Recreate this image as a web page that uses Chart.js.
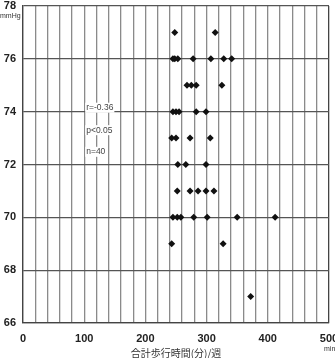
<!DOCTYPE html>
<html>
<head>
<meta charset="utf-8">
<script src="https://cdn.jsdelivr.net/npm/chart.js@4.4.1/dist/chart.umd.min.js"></script>
<style>
  html, body { margin: 0; padding: 0; background: #fff; overflow: hidden; }
</style>
</head>
<body>
<canvas id="bpChart" width="335" height="358"></canvas>
<script>
// weekly walking time (min) vs blood pressure (mmHg)
const walkMinutes = [
  248, 314,
  245, 248, 253, 278, 307, 328, 341,
  268, 275, 283, 325,
  245, 250, 255, 283, 299,
  243, 250, 273, 306,
  253, 266, 299,
  252, 273, 286, 299, 312,
  245, 252, 258, 279, 301, 350, 412,
  243, 327,
  372
];
const pressure = [
  77, 77,
  76, 76, 76, 76, 76, 76, 76,
  75, 75, 75, 75,
  74, 74, 74, 74, 74,
  73, 73, 73, 73,
  72, 72, 72,
  71, 71, 71, 71, 71,
  70, 70, 70, 70, 70, 70, 70,
  69, 69,
  67
];
const xLabels = [0, 100, 200, 300, 400, 500];
const statLines = ['r=-0.36', 'p<0.05', 'n=40'];
const xTitle = '合計歩行時間(分)/週';

const points = walkMinutes.map((m, i) => ({ x: m, y: pressure[i] }));

const numFont = '"Liberation Sans", Arial, sans-serif';

// small unit labels + stats box
const extraText = {
  id: 'extraText',
  beforeDatasetsDraw(chart) {
    const ctx = chart.ctx;
    const xs = chart.scales.x;
    const ys = chart.scales.y;
    ctx.save();
    ctx.font = '8.5px ' + numFont;
    ctx.textBaseline = 'middle';
    const left = xs.getPixelForValue(100) + 2;
    const rows = [ys.getPixelForValue(74.15), ys.getPixelForValue(73.3), ys.getPixelForValue(72.48)];
    statLines.forEach((t, i) => {
      const w = ctx.measureText(t).width;
      ctx.fillStyle = '#fff';
      ctx.fillRect(left - 1, rows[i] - 5, w + 2, 10);
      ctx.fillStyle = '#444';
      ctx.fillText(t, left, rows[i]);
    });
    ctx.restore();
  },
  afterDraw(chart) {
    const ctx = chart.ctx;
    ctx.save();
    ctx.fillStyle = '#333';
    ctx.font = '7px ' + numFont;
    ctx.textBaseline = 'middle';
    ctx.fillText('mmHg', 0, 16);
    ctx.fillText('min', 324, 349);
    ctx.restore();
  }
};

new Chart(document.getElementById('bpChart').getContext('2d'), {
  type: 'scatter',
  data: {
    datasets: [{
      data: points,
      pointStyle: 'rectRot',
      pointRadius: 3.5,
      pointBorderWidth: 0,
      backgroundColor: '#111',
      borderColor: '#111'
    }]
  },
  options: {
    responsive: false,
    animation: false,
    devicePixelRatio: 1,
    layout: { padding: { top: 6, right: 6, left: 0, bottom: 0 } },
    plugins: {
      legend: { display: false },
      tooltip: { enabled: false }
    },
    scales: {
      x: {
        type: 'linear',
        min: 0,
        max: 500,
        afterBuildTicks(scale) {
          const t = [];
          for (let v = 0; v <= 500; v += 20) t.push({ value: v });
          scale.ticks = t;
        },
        afterFit(scale) {
          scale.height = 35;
          scale.paddingLeft = 0;
          scale.paddingRight = 0;
        },
        ticks: {
          autoSkip: false,
          maxRotation: 0,
          padding: 9,
          color: '#222',
          font: { family: numFont, size: 11, weight: 'bold' },
          callback: v => (xLabels.includes(v) ? String(v) : '')
        },
        grid: {
          color: ctx => (ctx.tick && ctx.tick.value === 500 ? '#444' : '#8a8a8a'),
          lineWidth: 1.3,
          drawTicks: false
        },
        border: { color: '#444', width: 1.3 },
        title: {
          display: true,
          text: xTitle,
          color: '#333',
          padding: 0,
          font: { family: '"Noto Sans CJK JP", sans-serif', size: 10, lineHeight: 1.0 }
        }
      },
      y: {
        min: 66,
        max: 78,
        afterFit(scale) {
          scale.width = 23;
          scale.paddingTop = 0;
          scale.paddingBottom = 0;
        },
        ticks: {
          stepSize: 2,
          padding: 7,
          color: '#222',
          font: { family: numFont, size: 11, weight: 'bold' }
        },
        grid: {
          color: '#555',
          lineWidth: 1.3,
          drawTicks: false
        },
        border: { color: '#444', width: 1.3 }
      }
    }
  },
  plugins: [extraText]
});
</script>
</body>
</html>
